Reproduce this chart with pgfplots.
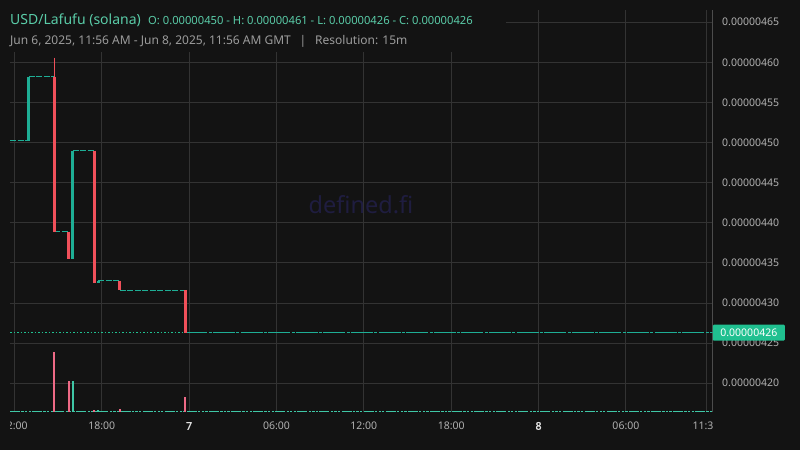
\documentclass[border=0pt]{standalone}
\usepackage{pgfplots}
\pgfplotsset{compat=1.18}
\usepackage{fontspec}
\setmainfont{Noto Sans}
\newfontfamily\dayfont{Noto Sans}[FakeBold=2]

\definecolor{bg}{HTML}{131313}
\definecolor{gridc}{HTML}{333333}
\definecolor{axisc}{HTML}{4C4C4C}
\definecolor{up}{HTML}{1EAE95}
\definecolor{down}{HTML}{F0505A}
\definecolor{upvol}{HTML}{3FC7A6}
\definecolor{downvol}{HTML}{EE6A86}
\definecolor{ticktext}{HTML}{B0B0B0}
\definecolor{daytext}{HTML}{E0E0E0}
\definecolor{titlec}{HTML}{5ACCA8}
\definecolor{subc}{HTML}{9C9C9C}
\definecolor{lastc}{HTML}{20C090}
\definecolor{wm}{HTML}{1F1D40}

\begin{document}
\begin{tikzpicture}
\fill[bg] (0,0) rectangle (800pt,450pt);

% price pane (x in hours from Jun 6 00:00, y in 1e-8)
\begin{axis}[
  at={(10pt,38.3pt)}, anchor=south west,
  scale only axis, width=702.7pt, height=401.7pt,
  xmin=11.705, xmax=59.96, ymin=416.45, ymax=466.53,
  axis x line*=bottom, axis y line*=right,
  x axis line style={draw=none},
  y axis line style={draw=axisc, line width=1pt, -},
  major tick length=0pt,
  grid=major,
  major grid style={draw=gridc, line width=1pt},
  xtick={12,18,24,30,36,42,48,54,59.5},
  xticklabels={12:00,18:00,{\dayfont\color{daytext}7},06:00,12:00,18:00,{\dayfont\color{daytext}8},06:00,11:30},
  xticklabel style={anchor=base, yshift=-18pt, text=ticktext,
    font=\fontsize{10.5}{12}\selectfont},
  ytick={420,425,430,435,440,445,450,455,460,465},
  yticklabels={0.00000420,0.00000425,0.00000430,0.00000435,0.00000440,
    0.00000445,0.00000450,0.00000455,0.00000460,0.00000465},
  yticklabel pos=right,
  yticklabel style={anchor=west, xshift=6pt, text=ticktext,
    font=\fontsize{10.5}{12}\selectfont},
  unbounded coords=jump,
]
\node[text=wm, font=\fontsize{23.5}{26}\selectfont] at (rel axis cs:0.4995,0.515) {defined.fi};

% flat 15m candles (o=h=l=c)
\addplot[up, line width=1pt, dash pattern=on 6pt off 1.5pt] coordinates {
  (11.705,450.2) (13.0,450.2) (13.0,nan)
  (13.0,458.2) (14.75,458.2) (14.75,nan)
  (14.75,438.9) (15.75,438.9) (15.75,nan)
  (16.0,449.0) (17.5,449.0) (17.5,nan)
  (17.75,432.75) (19.25,432.75) (19.25,nan)
  (19.25,431.6) (23.75,431.6)
};
\addplot[up, line width=1pt, dash pattern=on 22pt off 1.3pt on 3pt off 1.3pt] coordinates {
  (23.75,426.3) (59.96,426.3)
};
% last price line
\addplot[lastc, line width=0.8pt, dash pattern=on 1.5pt off 2pt] coordinates {
  (11.705,426.3) (23.75,426.3)
};
% wick
\addplot[down, line width=1pt] coordinates {(14.75,460.6) (14.75,458.2)};
% bodies
\addplot[up, line width=3pt] coordinates {
  (13.0,450.2) (13.0,458.2) (13.0,nan)
  (16.0,435.5) (16.0,449.0) (16.0,nan)
  (17.75,432.5) (17.75,432.75)
};
\addplot[down, line width=3pt] coordinates {
  (14.75,458.2) (14.75,438.9) (14.75,nan)
  (15.75,438.9) (15.75,435.5) (15.75,nan)
  (17.5,449.0) (17.5,432.5) (17.5,nan)
  (19.25,432.75) (19.25,431.6) (19.25,nan)
  (23.75,431.6) (23.75,426.3)
};
\coordinate (last) at (axis cs:59.96,426.3);
\end{axis}

% volume pane
\begin{axis}[
  at={(10pt,38.3pt)}, anchor=south west,
  scale only axis, width=702.7pt, height=401.7pt,
  xmin=11.705, xmax=59.96, ymin=0, ymax=401.7,
  hide axis,
]
\addplot[upvol, line width=1pt,
  dash pattern=on 10pt off 1.3pt on 2.3pt off 1.3pt on 2.3pt off 1.3pt on 2.3pt off 1.3pt]
  coordinates {(11.705,0.5) (59.96,0.5)};
\addplot[ycomb, downvol, line width=2pt] coordinates {
  (14.75,59.3) (15.75,30.3) (17.5,1.5) (19.25,2.3) (23.75,14.3)
};
\addplot[ycomb, upvol, line width=2pt] coordinates {
  (16.0,30.3) (17.75,1.5)
};
\end{axis}

% clip tick labels at the pane edges
\fill[bg] (0,0) rectangle (10pt,38pt);
\fill[bg] (712.7pt,0) rectangle (800pt,38pt);

% last price tag
\node[anchor=west, fill=lastc, text=white, inner xsep=7.5pt, inner ysep=0pt,
  minimum height=16pt, rounded corners=1pt,
  font=\fontsize{10.5}{12}\selectfont] at (last) {0.00000426};

% legend header
\fill[bg] (10pt,398pt) rectangle (506pt,440pt);
\node[anchor=base west, inner sep=0pt, text=titlec,
  font=\fontsize{14}{16}\selectfont] at (10pt,425pt) {USD/Lafufu (solana)};
\node[anchor=base west, inner sep=0pt, text=titlec,
  font=\fontsize{11.2}{13}\selectfont] at (148pt,425pt)
  {O: 0.00000450 - H: 0.00000461 - L: 0.00000426 - C: 0.00000426};
\node[anchor=base west, inner sep=0pt, text=subc,
  font=\fontsize{12}{14}\selectfont] at (10pt,405pt)
  {Jun 6, 2025, 11:56 AM - Jun 8, 2025, 11:56 AM GMT};
\node[anchor=base, inner sep=0pt, text=subc,
  font=\fontsize{12}{14}\selectfont] at (303pt,405pt) {|};
\node[anchor=base west, inner sep=0pt, text=subc,
  font=\fontsize{12}{14}\selectfont] at (315pt,405pt) {Resolution: 15m};

\pgfresetboundingbox
\useasboundingbox (0,0) rectangle (800pt,450pt);
\end{tikzpicture}
\end{document}
